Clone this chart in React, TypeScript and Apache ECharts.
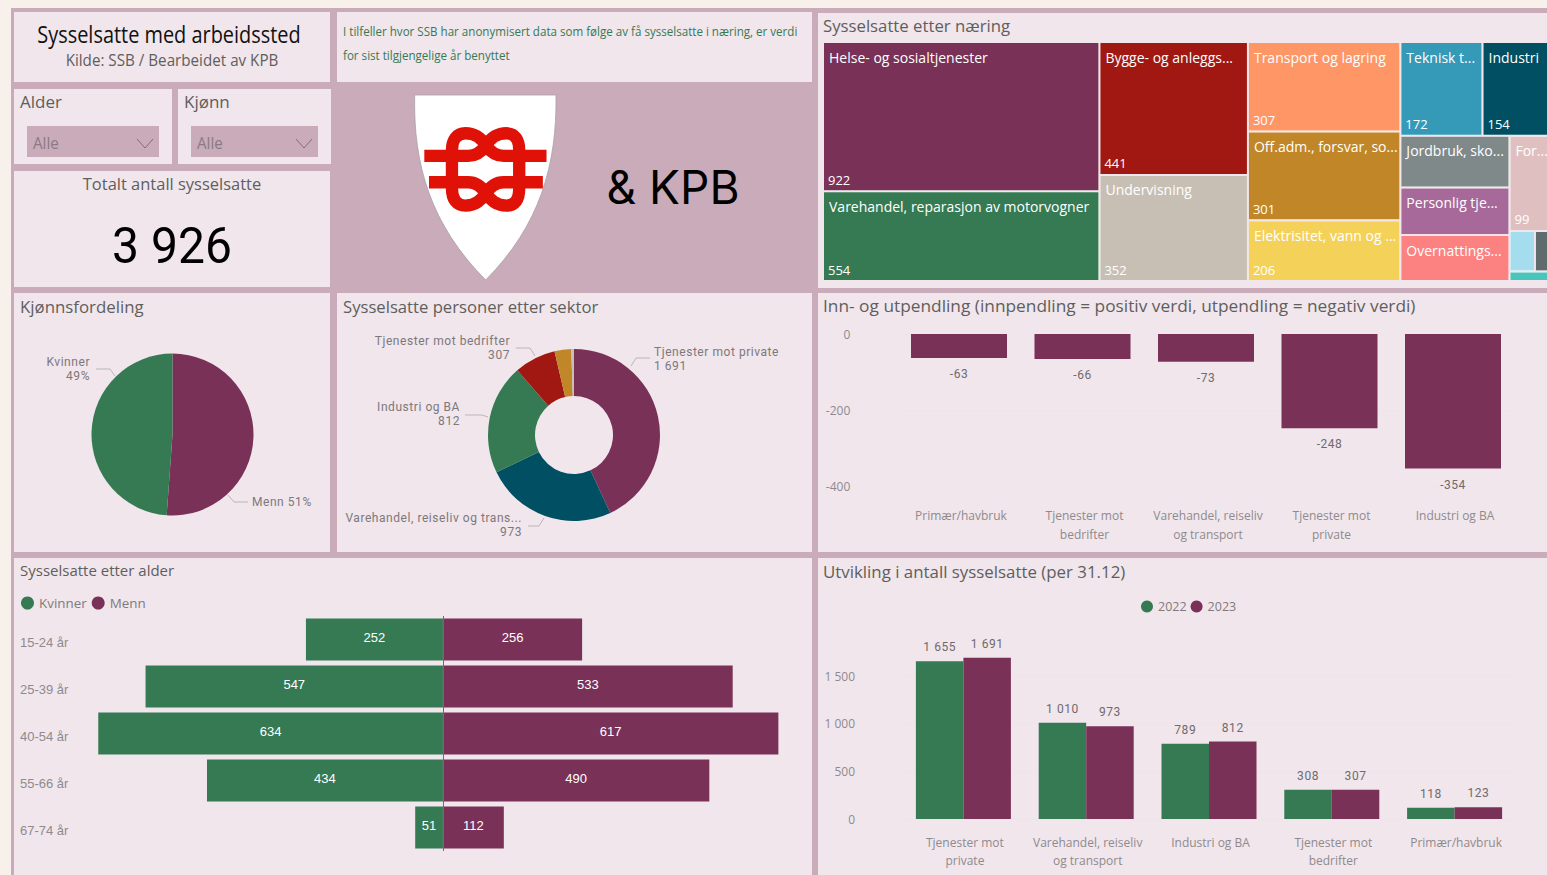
import React, { useEffect, useRef } from "react";
import * as echarts from "echarts";

const naeringNames = ["Helse- og sosialtjenester", "Varehandel, reparasjon av motorvogner", "Bygge- og anleggs...", "Undervisning", "Transport og lagring", "Off.adm., forsvar, so...", "Elektrisitet, vann og ...", "Teknisk t...", "Industri", "Jordbruk, sko...", "Personlig tje...", "Overnattings...", "For...", "", "", ""];
const naeringValues = [922, 554, 441, 352, 307, 301, 206, 172, 154, 126, 116, 112, 99, 23, 19, 10];
const naeringColors = ["#7A3158", "#357A53", "#A11812", "#C7BFB4", "#FE9666", "#C08628", "#F4D25A", "#3599B8", "#004F63", "#7F898A", "#A66999", "#FB8281", "#DFBFBF", "#A4DDEE", "#5F6B6D", "#4AC5BB"];
const naeringShowValue = [true, true, true, true, true, true, true, true, true, false, false, false, true, false, false, false];
const naeringColumns = [[[0, 1]], [[2, 3]], [[4], [5, 6]], [[7, 8, 9, 10, 11, 12, 13, 14, 15]]];

const kjonnNames = ["Menn", "Kvinner"];
const kjonnValues = [2008, 1918];

const sektorNames = ["Tjenester mot private", "Varehandel, reiseliv og trans...", "Industri og BA", "Tjenester mot bedrifter", "Primær/havbruk", "Uoppgitt"];
const sektorValues = [1691, 973, 812, 307, 123, 20];
const sektorColors = ["#7A3158", "#004F63", "#357A53", "#A11812", "#C08628", "#C7BFB4"];

const pendlingCats = ["Primær/havbruk", "Tjenester mot\nbedrifter", "Varehandel, reiseliv\nog transport", "Tjenester mot\nprivate", "Industri og BA"];
const pendlingValues = [-63, -66, -73, -248, -354];

const alderCats = ["15-24 år", "25-39 år", "40-54 år", "55-66 år", "67-74 år"];
const alderKvinner = [252, 547, 634, 434, 51];
const alderMenn = [256, 533, 617, 490, 112];

const utviklingCats = ["Tjenester mot\nprivate", "Varehandel, reiseliv\nog transport", "Industri og BA", "Tjenester mot\nbedrifter", "Primær/havbruk"];
const utvikling2022 = [1655, 1010, 789, 308, 118];
const utvikling2023 = [1691, 973, 812, 307, 123];

const PURPLE = "#7A3158";
const GREEN = "#357A53";
const PANEL = "#F0E6EC";
const BG = "#C9ABBA";
const PAGE = "#F8F0EB";
const TITLE = "#605E5C";
const AXIS = "#8F8A8D";
const SEGOE = "'Open Sans', sans-serif";
const DIN = "Roboto, Lato, sans-serif";
const BIG = "Roboto, sans-serif";
const ARIAL = "'Liberation Sans', Arial, sans-serif";

const spaced = (v: number) => String(v).replace(/\B(?=(\d{3})+(?!\d))/g, " ");

echarts.graphic.registerShape(
  "shield",
  echarts.graphic.extendPath("M414.7 95 L556 95 C557 165 540 225 485.7 280 C431 225 413 165 414.7 95 Z", {})
);
echarts.graphic.registerShape(
  "knotA",
  echarts.graphic.extendPath("M73 213 H205 C230 213 245 200 258 182 C272 160 288 145 320 145 C345 145 358 165 358 195 V310 C358 345 345 362 320 362 C288 362 272 345 258 325 C245 305 230 292 205 292 H87", {})
);
echarts.graphic.registerShape(
  "knotB",
  echarts.graphic.extendPath("M440 213 H311 C286 213 271 200 258 182 C244 160 228 145 196 145 C171 145 156 165 156 195 V310 C156 345 171 362 196 362 C228 362 244 345 258 325 C271 305 286 292 311 292 H429", {})
);

function panel(x: number, y: number, w: number, h: number, fill = PANEL) {
  return { type: "rect", z: -10, shape: { x, y, width: w, height: h }, style: { fill } };
}
function txt(x: number, y: number, text: string, size: number, opt: any = {}) {
  return {
    type: "text",
    z: 20,
    x,
    y,
    scaleX: opt.scaleX ?? 1,
    style: {
      text,
      fill: opt.color ?? TITLE,
      font: `${opt.weight ?? 400} ${size}px ${opt.font ?? SEGOE}`,
      textAlign: opt.align ?? "left",
      textVerticalAlign: "middle",
    },
  };
}
function chevron(x: number) {
  return {
    type: "polyline",
    z: 20,
    shape: { points: [[x, 139], [x + 8, 148], [x + 16, 139]] },
    style: { stroke: "#7F6F79", lineWidth: 1, fill: "none" },
  };
}

function labelAt(pos: any[]) {
  return (p: any) => pos[p.dataIndex];
}

const kjonnLabelPos = [
  { x: 252, y: 501.5, align: "left", verticalAlign: "middle", labelLinePoints: [[228, 495], [234, 502], [248, 502]] },
  { x: 90, y: 368.5, align: "right", verticalAlign: "middle", labelLinePoints: [[96, 369], [110, 369], [115, 376]] },
];
const sektorLabelPos = [
  { x: 654, y: 359, align: "left", verticalAlign: "middle", labelLinePoints: [[650, 358], [636, 358], [631, 366]] },
  { x: 522, y: 525, align: "right", verticalAlign: "middle", labelLinePoints: [[528, 526], [539, 526], [544, 518]] },
  { x: 460, y: 414, align: "right", verticalAlign: "middle", labelLinePoints: [[465, 415], [482, 415], [488, 417]] },
  { x: 510, y: 348, align: "right", verticalAlign: "middle", labelLinePoints: [[516, 348], [530, 348], [535, 356]] },
];

function treemapSeries(): any[] {
  const totalValue = naeringValues.reduce((a, b) => a + b, 0);
  const TREE_LEFT = 824;
  const TREE_WIDTH = 733;
  const TREE_TOP = 43;
  const TREE_HEIGHT = 237;
  const out: any[] = [];
  let cumX = 0;
  naeringColumns.forEach((column, c) => {
    const colSum = column.flat().reduce((a, i) => a + naeringValues[i], 0);
    let cumY = 0;
    column.forEach((block, b) => {
      const blockSum = block.reduce((a, i) => a + naeringValues[i], 0);
      const isLast = b === column.length - 1;
      const base = {
        type: "treemap",
        left: TREE_LEFT + (cumX / totalValue) * TREE_WIDTH,
        top: TREE_TOP + (cumY / colSum) * TREE_HEIGHT,
        width: (colSum / totalValue) * TREE_WIDTH - 2,
        height: (blockSum / colSum) * TREE_HEIGHT - (isLast ? 0 : 2),
        roam: false,
        nodeClick: false,
        sort: "desc",
        squareRatio: 1.618,
        visibleMin: 0,
        breadcrumb: { show: false },
        levels: [{ itemStyle: { gapWidth: 2, borderWidth: 0, gapColor: PANEL, borderColor: PANEL } }],
      };
      cumY += blockSum;
      out.push({
        ...base,
        name: `naering${c}${b}`,
        data: block.map((i) => ({ name: naeringNames[i], value: naeringValues[i], itemStyle: { color: naeringColors[i] } })),
        label: { show: true, position: "insideTopLeft", distance: 5, padding: [2, 0, 0, 0], formatter: "{b}", color: "#FFFFFF", fontSize: 14, fontFamily: SEGOE, overflow: "none" },
      });
      out.push({
        ...base,
        name: `naeringVerdi${c}${b}`,
        silent: true,
        data: block.map((i) => ({
          name: naeringNames[i],
          value: naeringValues[i],
          itemStyle: { color: "rgba(0,0,0,0)" },
          label: { show: naeringShowValue[i] },
        })),
        label: { show: true, position: "insideBottomLeft", distance: 4, padding: 0, formatter: "{c}", color: "#FFFFFF", fontSize: 13, fontFamily: SEGOE, overflow: "none" },
      });
    });
    cumX += colSum;
  });
  return out;
}

function buildOption(): any {
  const graphics: any[] = [
    panel(0, 0, 1547, 875, PAGE),
    panel(11, 8, 1536, 867, BG),
    panel(14, 12, 316, 70),
    panel(337, 12, 475, 70),
    panel(14, 89, 158, 75),
    panel(178, 89, 153, 75),
    panel(14, 171, 316, 116),
    panel(14, 293, 316, 259),
    panel(337, 293, 475, 259),
    panel(14, 558, 798, 317),
    panel(818, 13, 729, 275),
    panel(818, 293, 729, 259),
    panel(818, 558, 729, 317),
    panel(27, 126, 132, 31, BG),
    panel(191, 126, 127, 31, BG),

    txt(169, 33, "Sysselsatte med arbeidssted", 24, { align: "center", color: "#111", scaleX: 0.83 }),
    txt(172, 60, "Kilde: SSB / Bearbeidet av KPB", 16, { align: "center", scaleX: 0.95 }),
    txt(343, 31, "I tilfeller hvor SSB har anonymisert data som følge av få sysselsatte i næring, er verdi", 12.5, { color: GREEN, scaleX: 0.928 }),
    txt(343, 55, "for sist tilgjengelige år benyttet", 12.5, { color: GREEN, scaleX: 0.928 }),
    txt(20, 101, "Alder", 17, { scaleX: 1 }),
    txt(184, 101, "Kjønn", 17, { scaleX: 1 }),
    txt(33, 143, "Alle", 16, { color: "#8A7A84", scaleX: 0.95 }),
    txt(197, 143, "Alle", 16, { color: "#8A7A84", scaleX: 0.95 }),
    chevron(137),
    chevron(296),
    txt(172, 183, "Totalt antall sysselsatte", 17, { align: "center", scaleX: 0.97 }),
    txt(172, 246, "3 926", 50, { align: "center", color: "#000", font: BIG, scaleX: 0.96 }),

    txt(20, 306, "Kjønnsfordeling", 17, { scaleX: 0.99 }),
    txt(343, 306, "Sysselsatte personer etter sektor", 17, { scaleX: 0.98 }),
    txt(823, 25, "Sysselsatte etter næring", 17, { scaleX: 0.985 }),
    txt(823, 306, "Inn- og utpendling (innpendling = positiv verdi, utpendling = negativ verdi)", 17, { scaleX: 1.018 }),
    txt(20, 570, "Sysselsatte etter alder", 15, { scaleX: 1 }),
    txt(823, 571, "Utvikling i antall sysselsatte (per 31.12)", 17, { scaleX: 0.992 }),

    { type: "shield", z: 5, style: { fill: "#FFFFFF", stroke: "#A9A0A6", lineWidth: 0.8 } },
    { type: "knotA", z: 6, x: 400, y: 85, scaleX: 1 / 3, scaleY: 1 / 3, style: { fill: "none", stroke: "#E01208", lineWidth: 37 } },
    { type: "knotB", z: 6, x: 400, y: 85, scaleX: 1 / 3, scaleY: 1 / 3, style: { fill: "none", stroke: "#E01208", lineWidth: 37 } },
    txt(673, 187, "& KPB", 46, { align: "center", color: "#000", font: "Inter, sans-serif", scaleX: 1 }),
  ];

  const valueLabel = { color: "#6F6A6D", fontSize: 12, fontWeight: 400, fontFamily: DIN };

  return {
    animation: false,
    graphic: { elements: graphics },
    legend: [
      {
        data: ["Kvinner", "Menn"], left: 21, top: 596.5, padding: 0, icon: "circle", itemWidth: 13, itemHeight: 13, itemGap: 5,
        textStyle: { color: "#7F7A7D", fontSize: 13.4, fontFamily: SEGOE },
      },
      {
        data: ["2022", "2023"], left: 1141, top: 600, padding: 0, icon: "circle", itemWidth: 12, itemHeight: 12, itemGap: 4,
        textStyle: { color: "#7F7A7D", fontSize: 12.5, fontFamily: SEGOE },
      },
    ],
    grid: [
      { left: 897.25, top: 334, width: 617.5, height: 152 },
      { left: 95, top: 616, width: 685, height: 235 },
      { left: 902, top: 628.4, width: 614, height: 190.6 },
    ],
    xAxis: [
      {
        gridIndex: 0, type: "category", data: pendlingCats, position: "bottom",
        axisLine: { show: false, onZero: false }, axisTick: { show: false },
        axisLabel: { color: AXIS, fontSize: 12, fontFamily: SEGOE, margin: 20, lineHeight: 19, interval: 0, padding: [0, 0, 0, 4] },
      },
      { gridIndex: 1, type: "value", min: -640, max: 620, show: false, splitLine: { show: false } },
      {
        gridIndex: 2, type: "category", data: utviklingCats,
        axisLine: { show: false }, axisTick: { show: false },
        axisLabel: { color: AXIS, fontSize: 12, fontFamily: SEGOE, margin: 14, lineHeight: 18, interval: 0, padding: [0, 0, 0, 3] },
      },
    ],
    yAxis: [
      {
        gridIndex: 0, type: "value", min: -400, max: 0, interval: 200,
        axisLine: { show: false }, axisTick: { show: false }, splitLine: { lineStyle: { color: "#EEE4EA" } },
        axisLabel: { color: AXIS, fontSize: 12, fontFamily: SEGOE, margin: 47, formatter: spaced },
      },
      {
        gridIndex: 1, type: "category", data: alderCats, inverse: true,
        axisLine: { show: false, onZero: false }, axisTick: { show: false },
        axisLabel: { color: AXIS, fontSize: 13, fontFamily: ARIAL, margin: 75, align: "left", verticalAlign: "top", lineHeight: 6 },
      },
      {
        gridIndex: 2, type: "value", min: 0, max: 2000, interval: 500,
        axisLine: { show: false }, axisTick: { show: false },
        splitLine: { showMaxLine: false, lineStyle: { color: "#EEE4EA" } },
        axisLabel: { color: AXIS, fontSize: 12, fontFamily: SEGOE, margin: 47, showMaxLabel: false, formatter: spaced },
      },
    ],
    series: [
      ...treemapSeries(),
      {
        type: "pie", name: "kjonn", center: [172.5, 434.5], radius: [0, 81], startAngle: 90, percentPrecision: 0,
        data: kjonnNames.map((name, i) => ({
          name, value: kjonnValues[i], itemStyle: { color: [PURPLE, GREEN][i] },
          label: { formatter: i === 0 ? "{b} {d}%" : "{b}\n{d}%" },
        })),
        label: { color: "#7D787B", fontSize: 12, fontWeight: 400, fontFamily: DIN, lineHeight: 14, overflow: "none" },
        labelLine: { show: true, lineStyle: { color: "#BDB5BA", width: 1 } },
        labelLayout: labelAt(kjonnLabelPos),
      },
      {
        type: "pie", name: "sektor", center: [574, 435], radius: [39, 86], startAngle: 90,
        data: sektorNames.map((name, i) => ({
          name, value: sektorValues[i], itemStyle: { color: sektorColors[i] },
          label: { show: i < 4 }, labelLine: { show: i < 4 },
        })),
        label: {
          color: "#7D787B", fontSize: 12, fontWeight: 400, fontFamily: DIN, lineHeight: 14, overflow: "none",
          formatter: (p: any) => `${p.name}\n${spaced(p.value)}`,
        },
        labelLine: { show: true, lineStyle: { color: "#BDB5BA", width: 1 } },
        labelLayout: labelAt(sektorLabelPos),
      },
      {
        type: "bar", name: "pendling", xAxisIndex: 0, yAxisIndex: 0, data: pendlingValues, barWidth: 96,
        itemStyle: { color: PURPLE },
        label: { show: true, position: "bottom", distance: 10, ...valueLabel },
      },
      {
        type: "bar", name: "Kvinner", xAxisIndex: 1, yAxisIndex: 1, stack: "alder", barWidth: 42,
        data: alderKvinner.map((v) => -v),
        itemStyle: { color: GREEN },
        label: { show: true, position: "inside", offset: [0, -2], color: "#FFFFFF", fontSize: 13, fontFamily: ARIAL, formatter: (p: any) => String(Math.abs(p.value)) },
        markLine: {
          silent: true, symbol: "none", label: { show: false },
          lineStyle: { color: "#6F6A6D", width: 1, type: "solid" },
          data: [{ xAxis: 0 }],
        },
      },
      {
        type: "bar", name: "Menn", xAxisIndex: 1, yAxisIndex: 1, stack: "alder", barWidth: 42,
        data: alderMenn, itemStyle: { color: PURPLE },
        label: { show: true, position: "inside", offset: [0, -2], color: "#FFFFFF", fontSize: 13, fontFamily: ARIAL },
      },
      {
        type: "bar", name: "2022", xAxisIndex: 2, yAxisIndex: 2, data: utvikling2022, barWidth: 47.5, barGap: 0,
        itemStyle: { color: GREEN },
        label: { show: true, position: "top", distance: 8, ...valueLabel, formatter: (p: any) => spaced(p.value) },
      },
      {
        type: "bar", name: "2023", xAxisIndex: 2, yAxisIndex: 2, data: utvikling2023, barWidth: 47.5, barGap: 0,
        itemStyle: { color: PURPLE },
        label: { show: true, position: "top", distance: 8, ...valueLabel, formatter: (p: any) => spaced(p.value) },
      },
    ],
  };
}

export default function App() {
  const ref = useRef<HTMLDivElement>(null);
  useEffect(() => {
    const chart = echarts.init(ref.current!, undefined, { renderer: "svg" });
    chart.setOption(buildOption());
    return () => chart.dispose();
  }, []);
  return (
    <>
      <style>{`text[style*="Lato"]{letter-spacing:.55px}`}</style>
      <div ref={ref} style={{ position: "absolute", left: 0, top: 0, width: 1547, height: 875 }} />
    </>
  );
}
